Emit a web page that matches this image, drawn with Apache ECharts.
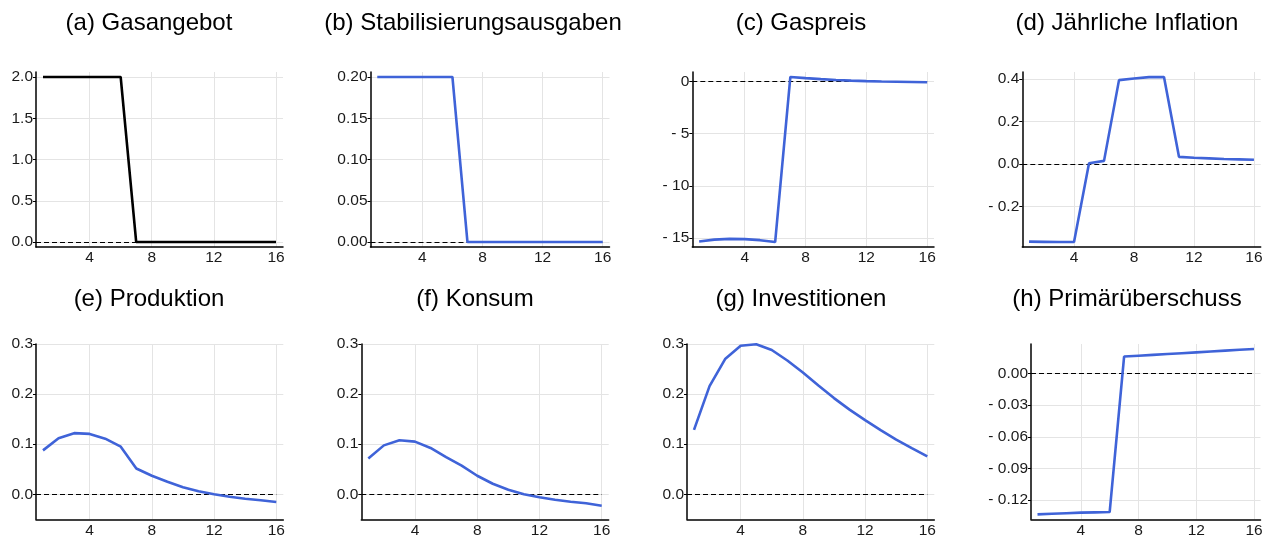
<!DOCTYPE html>
<html><head><meta charset="utf-8">
<script src="https://cdn.jsdelivr.net/npm/echarts@6/dist/echarts.min.js"></script>
<style>html,body{margin:0;padding:0;background:#fff}#c{width:1265px;height:535px}</style>
</head><body><div id="c"></div><script>
// ---------- data ----------
const periods = [1,2,3,4,5,6,7,8,9,10,11,12,13,14,15,16];
const xTicks = [4, 8, 12, 16];
const titles = ['(a) Gasangebot','(b) Stabilisierungsausgaben','(c) Gaspreis','(d) Jährliche Inflation',
                '(e) Produktion','(f) Konsum','(g) Investitionen','(h) Primärüberschuss'];
const gasSupply    = [2,2,2,2,2,2,0,0,0,0,0,0,0,0,0,0];
const stabSpending = [0.2,0.2,0.2,0.2,0.2,0.2,0,0,0,0,0,0,0,0,0,0];
const gasPrice     = [-15.32,-15.15,-15.08,-15.10,-15.20,-15.38,0.41,0.30,0.20,0.12,0.06,0.01,-0.03,-0.05,-0.07,-0.09];
const inflation    = [-0.367,-0.368,-0.369,-0.369,0.003,0.014,0.395,0.403,0.409,0.410,0.033,0.029,0.026,0.023,0.021,0.019];
const output       = [0.0876,0.112,0.122,0.1205,0.111,0.095,0.0515,0.037,0.025,0.014,0.006,0.0,-0.005,-0.009,-0.012,-0.0155];
const consumption  = [0.0715,0.0976,0.1077,0.105,0.0924,0.074,0.057,0.037,0.021,0.009,0.0,-0.006,-0.011,-0.015,-0.018,-0.0229];
const investment   = [0.1286,0.216,0.270,0.2966,0.2995,0.288,0.267,0.243,0.217,0.192,0.169,0.148,0.128,0.109,0.092,0.0755];
const primary      = [-0.1336,-0.1330,-0.1325,-0.1320,-0.1317,-0.1314,0.0161,0.0169,0.0177,0.0185,0.0193,0.0201,0.0209,0.0217,0.0225,0.0233];
const yTicksA = [0,0.5,1,1.5,2];
const yTicksB = [0,0.05,0.1,0.15,0.2];
const yTicksC = [-15,-10,-5,0];
const yTicksD = [-0.2,0,0.2,0.4];
const yTicksEFG = [0,0.1,0.2,0.3];
const yTicksH = [-0.12,-0.09,-0.06,-0.03,0];
const fixedRangeEFG = [-0.05, 0.3];

// ---------- layout / style ----------
const BLUE = '#3f63d8';
const panels = [
  {t:0, v:gasSupply,    c:'#000', ticks:yTicksA, dec:1, L:36,   R:283,  T:72,  B:247, tx:144},
  {t:1, v:stabSpending, c:BLUE,   ticks:yTicksB, dec:2, L:370.5,R:609.5,T:72,  B:247, tx:468},
  {t:2, v:gasPrice,     c:BLUE,   ticks:yTicksC, dec:0, L:692.3,R:934,  T:72,  B:247, tx:796},
  {t:3, v:inflation,    c:BLUE,   ticks:yTicksD, dec:1, L:1022.3,R:1260.7,T:72,B:247, tx:1122},
  {t:4, v:output,       c:BLUE,   ticks:yTicksEFG, dec:1, L:36,  R:283.3,T:344, B:519.3, tx:144, fixed:fixedRangeEFG},
  {t:5, v:consumption,  c:BLUE,   ticks:yTicksEFG, dec:1, L:361.3,R:608.7,T:344,B:519.3, tx:470, fixed:fixedRangeEFG},
  {t:6, v:investment,   c:BLUE,   ticks:yTicksEFG, dec:1, L:687, R:934.3,T:344, B:519.3, tx:796, fixed:fixedRangeEFG},
  {t:7, v:primary,      c:BLUE,   ticks:yTicksH, dec:2, L:1031, R:1260.5,T:344, B:519.3, tx:1122}
];
const FONT = 'Liberation Sans';
const xPad = 0.03 * (periods[periods.length-1] - periods[0]);
const xMin = periods[0] - xPad, xMax = periods[periods.length-1] + xPad;

function fmt(dec){ return v => { const s = Math.abs(v).toFixed(dec); return v < -1e-12 ? '- ' + s : s; }; }

const option = {animation:false, backgroundColor:'#fff', title:[], grid:[], xAxis:[], yAxis:[], series:[]};
panels.forEach((p, i) => {
  let lo, hi;
  if (p.fixed) { lo = p.fixed[0]; hi = p.fixed[1]; }
  else { const mn = Math.min(...p.v), mx = Math.max(...p.v), pad = 0.03*(mx-mn); lo = mn - pad; hi = mx + pad; }
  option.title.push({text: titles[p.t], left: p.tx, top: p.T < 100 ? 6 : 282, textAlign:'center',
    textStyle:{fontFamily:FONT, fontSize:24, fontWeight:'normal', color:'#000'}});
  option.grid.push({left:p.L, top:p.T, width:p.R-p.L, height:p.B-p.T, containLabel:false, outerBoundsMode:'none'});
  option.xAxis.push({type:'value', gridIndex:i, min:xMin, max:xMax,
    axisLine:{show:true, onZero:false, lineStyle:{color:'#000', width:1.5}},
    axisTick:{show:false, customValues:xTicks},
    axisLabel:{customValues:xTicks, fontFamily:FONT, fontSize:15.5, color:'#1a1a1a', margin:3},
    splitLine:{show:true, lineStyle:{color:'#e4e4e4', width:1}}});
  option.yAxis.push({type:'value', gridIndex:i, min:lo, max:hi,
    axisLine:{show:true, onZero:false, lineStyle:{color:'#000', width:1.5}},
    axisTick:{show:true, customValues:p.ticks, length:3, lineStyle:{color:'#000', width:1}},
    axisLabel:{customValues:p.ticks, formatter:fmt(p.dec), fontFamily:FONT, fontSize:15.5, color:'#1a1a1a', margin:3},
    splitLine:{show:true, lineStyle:{color:'#e4e4e4', width:1}}});
  option.series.push({type:'line', xAxisIndex:i, yAxisIndex:i, symbol:'none', z:3,
    data: periods.map((x, j) => [x, p.v[j]]),
    lineStyle:{color:p.c, width:2.6}, itemStyle:{color:p.c},
    markLine:{silent:true, symbol:'none', label:{show:false}, z:2,
      lineStyle:{color:'#000', type:[5,3], width:1},
      data:[[{coord:[xMin,0]},{coord:[periods[periods.length-1],0]}]]}});
});
const chart = echarts.init(document.getElementById('c'), null, {renderer:'canvas'});
chart.setOption(option);
</script></body></html>
